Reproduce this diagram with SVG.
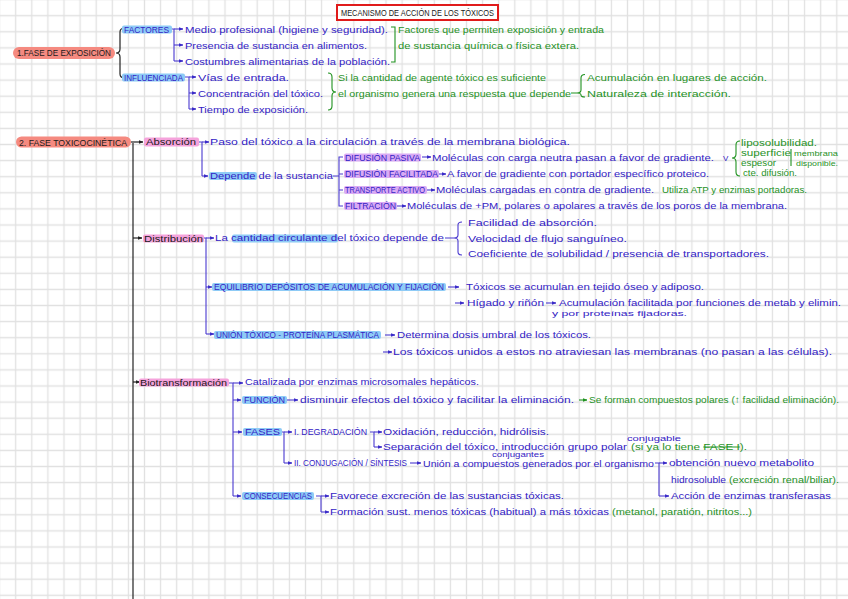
<svg xmlns="http://www.w3.org/2000/svg" width="848" height="599" viewBox="0 0 848 599">
<defs>
<pattern id="grid" patternUnits="userSpaceOnUse" x="7.65" y="7.65" width="16.1" height="16.1">
<path d="M8.05 0V16.1M0 8.05H16.1" stroke="#e1e1e1" stroke-width="1.3" fill="none"/>
</pattern>
<marker id="mb" viewBox="0 0 6 6" refX="5.5" refY="3" markerWidth="4.5" markerHeight="4.5" markerUnits="userSpaceOnUse" orient="auto"><path d="M0,0.5L6,3L0,5.5Z" fill="#3a2bc8"/></marker>
<marker id="mk" viewBox="0 0 6 6" refX="5.5" refY="3" markerWidth="4.5" markerHeight="4.5" markerUnits="userSpaceOnUse" orient="auto"><path d="M0,0.5L6,3L0,5.5Z" fill="#222"/></marker>
<marker id="mg" viewBox="0 0 6 6" refX="5.5" refY="3" markerWidth="4.5" markerHeight="4.5" markerUnits="userSpaceOnUse" orient="auto"><path d="M0,0.5L6,3L0,5.5Z" fill="#1f921f"/></marker>
<style>
text{font-family:"Liberation Sans","DejaVu Sans",sans-serif;font-size:9.5px}
.b{fill:#3322c4}
.g{fill:#1f921f}
.k{fill:#1a1a1a}
.c{font-size:8.5px}
.s{font-size:8px}
.t{font-size:7px}
.lb{fill:none;stroke:#4a3ad0;stroke-width:1.1}
.lk{fill:none;stroke:#222;stroke-width:1.2}
.lg{fill:none;stroke:#1f921f;stroke-width:1.1}
.hb{fill:#8ecbf6}
.hp{fill:#f5a3dc}
.hv{fill:#d9aaf4}
.hs{fill:#f58a80}
.st{text-decoration:line-through}
</style>
</defs>
<rect width="848" height="599" fill="#fff"/>
<rect width="848" height="599" fill="url(#grid)"/>

<g id="title">
<rect x="337" y="5" width="161" height="15" fill="#fff" stroke="#e01b1b" stroke-width="2"/>
<text x="341" y="16.2" class="k" style="font-size:9px" textLength="153" lengthAdjust="spacingAndGlyphs">MECANISMO DE ACCIÓN DE LOS TÓXICOS</text>
</g>

<g id="connectors">
<path class="lk" d="M125,28 Q120,28 120,32 V49 Q120,53 116,53 Q120,53 120,57 V74 Q120,78 125,78"/>
<path class="lb" d="M172,29 H174 V61"/>
<path class="lb" d="M174,29 H183" marker-end="url(#mb)"/>
<path class="lb" d="M174,45 H183" marker-end="url(#mb)"/>
<path class="lb" d="M174,61 H183" marker-end="url(#mb)"/>
<path class="lb" d="M185,77 H189 V109"/>
<path class="lb" d="M189,77 H196" marker-end="url(#mb)"/>
<path class="lb" d="M189,93 H196" marker-end="url(#mb)"/>
<path class="lb" d="M189,109 H196" marker-end="url(#mb)"/>
<path class="lg" d="M391,27 H395 V62 H391"/>
<path class="lg" d="M328,73 Q332,73 332,77 V88 Q332,92 336,92 Q332,92 332,96 V106 Q332,110 328,110"/>
<path class="lg" d="M571,93 H577 M585,74.5 Q581,74.5 581,78 V90 Q581,93 577,93 Q581,93 581,95 Q581,97 585,97"/>
<path class="lk" d="M131,142 H143" marker-end="url(#mk)"/>
<path class="lk" d="M133,143 V599" stroke-width="1.6"/>
<path class="lb" d="M199,142 H202 V176"/>
<path class="lb" d="M202,142 H209" marker-end="url(#mb)"/>
<path class="lb" d="M202,176 H208" marker-end="url(#mb)"/>
<path class="lb" d="M333,176 H339 M343,157 H339 V206 H343 M339,174 H343 M339,190 H343"/>
<path class="lb" d="M422,157 H431" marker-end="url(#mb)"/>
<path class="lb" d="M439,174 H446" marker-end="url(#mb)"/>
<path class="lb" d="M427,190 H435" marker-end="url(#mb)"/>
<path class="lb" d="M397,206 H406" marker-end="url(#mb)"/>
<path class="lg" d="M740,141 Q736,141 736,145 V154 Q736,158 732,158 Q736,158 736,162 V172 Q736,176 740,176"/>
<path class="lg" d="M791,149 V166"/>
<path class="lk" d="M133,238 H142" marker-end="url(#mk)"/>
<path class="lb" d="M204,238 H206 V334"/>
<path class="lb" d="M206,238 H214" marker-end="url(#mb)"/>
<path class="lb" d="M206,287 H212" marker-end="url(#mb)"/>
<path class="lb" d="M206,334 H214" marker-end="url(#mb)"/>
<path class="lb" d="M445,238 H454 M462,222 Q458,222 458,225 V235 Q458,238 454,238 Q458,238 458,241 V252 Q458,255 462,255"/>
<path class="lb" d="M448,287 H459" marker-end="url(#mb)"/>
<path class="lb" d="M455,303 H464" marker-end="url(#mb)"/>
<path class="lb" d="M546,303 H556" marker-end="url(#mb)"/>
<path class="lb" d="M385,335 H395" marker-end="url(#mb)"/>
<path class="lb" d="M383,352 H392" marker-end="url(#mb)"/>
<path class="lk" d="M133,382 H140" marker-end="url(#mk)"/>
<path class="lb" d="M229,383 H233 V496"/>
<path class="lb" d="M233,383 H243" marker-end="url(#mb)"/>
<path class="lb" d="M233,400 H241" marker-end="url(#mb)"/>
<path class="lb" d="M233,432 H242" marker-end="url(#mb)"/>
<path class="lb" d="M233,496 H241" marker-end="url(#mb)"/>
<path class="lb" d="M287,400 H298" marker-end="url(#mb)"/>
<path class="lg" d="M579,400 H587" marker-end="url(#mg)"/>
<path class="lb" d="M282,432 H284 V463"/>
<path class="lb" d="M284,432 H292" marker-end="url(#mb)"/>
<path class="lb" d="M284,463 H292" marker-end="url(#mb)"/>
<path class="lb" d="M370,432 H374 V447"/>
<path class="lb" d="M374,432 H382" marker-end="url(#mb)"/>
<path class="lb" d="M374,447 H382" marker-end="url(#mb)"/>
<path class="lb" d="M410,463 H421" marker-end="url(#mb)"/>
<path class="lb" d="M655,463 H659 V496"/>
<path class="lb" d="M659,463 H667" marker-end="url(#mb)"/>
<path class="lb" d="M659,496 H669" marker-end="url(#mb)"/>
<path class="lb" d="M316,496 H321 V512"/>
<path class="lb" d="M321,496 H329" marker-end="url(#mb)"/>
<path class="lb" d="M321,512 H329" marker-end="url(#mb)"/>
</g>

<g id="fase-exposicion">
<rect x="13" y="47" width="102" height="12" rx="6" class="hs"/>
<text x="17" y="56.3" class="k" style="font-size:9px" textLength="94" lengthAdjust="spacingAndGlyphs">1.FASE DE EXPOSICIÓN</text>
</g>
<g id="factores">
<rect x="122" y="25.5" width="50" height="8" rx="2" class="hb"/>
<text x="124" y="32.6" class="b c" textLength="45" lengthAdjust="spacingAndGlyphs">FACTORES</text>
<text x="185" y="32.5" class="b" textLength="203" lengthAdjust="spacingAndGlyphs">Medio profesional (higiene y seguridad).</text>
<text x="185" y="48.5" class="b" textLength="182" lengthAdjust="spacingAndGlyphs">Presencia de sustancia en alimentos.</text>
<text x="185" y="64.5" class="b" textLength="205" lengthAdjust="spacingAndGlyphs">Costumbres alimentarias de la población.</text>
<text x="398" y="32.5" class="g" textLength="206" lengthAdjust="spacingAndGlyphs">Factores que permiten exposición y entrada</text>
<text x="398" y="48.5" class="g" textLength="181" lengthAdjust="spacingAndGlyphs">de sustancia química o física extera.</text>
</g>
<g id="influenciada">
<rect x="122" y="73.5" width="63" height="8" rx="2" class="hb"/>
<text x="124" y="80.6" class="b c" textLength="59" lengthAdjust="spacingAndGlyphs">INFLUENCIADA</text>
<text x="198" y="80.5" class="b" textLength="91" lengthAdjust="spacingAndGlyphs">Vías de entrada.</text>
<text x="198" y="96.5" class="b" textLength="125" lengthAdjust="spacingAndGlyphs">Concentración del tóxico.</text>
<text x="198" y="112.5" class="b" textLength="110" lengthAdjust="spacingAndGlyphs">Tiempo de exposición.</text>
<text x="338" y="80.5" class="g" textLength="208" lengthAdjust="spacingAndGlyphs">Si la cantidad de agente tóxico es suficiente</text>
<text x="338" y="96.5" class="g" textLength="233" lengthAdjust="spacingAndGlyphs">el organismo genera una respuesta que depende</text>
<text x="587" y="80.5" class="g" textLength="180" lengthAdjust="spacingAndGlyphs">Acumulación en lugares de acción.</text>
<text x="587" y="96.5" class="g" textLength="144" lengthAdjust="spacingAndGlyphs">Naturaleza de interacción.</text>
</g>

<g id="fase-toxicocinetica">
<rect x="16" y="136.5" width="115" height="11" rx="5.5" class="hs"/>
<text x="19" y="145.5" class="k" style="font-size:9px" textLength="108" lengthAdjust="spacingAndGlyphs">2. FASE TOXICOCINÉTICA</text>
</g>
<g id="absorcion">
<rect x="144" y="137.5" width="55" height="9" rx="2" class="hp"/>
<text x="146" y="145" class="k" textLength="50" lengthAdjust="spacingAndGlyphs">Absorción</text>
<text x="210" y="145" class="b" textLength="360" lengthAdjust="spacingAndGlyphs">Paso del tóxico a la circulación a través de la membrana biológica.</text>
<rect x="209" y="172" width="48" height="8" rx="2" class="hb"/>
<text x="210" y="179" class="b" textLength="123" lengthAdjust="spacingAndGlyphs">Depende de la sustancia</text>
</g>
<g id="mecanismos-absorcion">
<rect x="344" y="153.5" width="77" height="8" rx="2" class="hv"/>
<text x="345" y="160.5" class="b c" textLength="75" lengthAdjust="spacingAndGlyphs">DIFUSIÓN PASIVA</text>
<text x="432" y="160.5" class="b" textLength="282" lengthAdjust="spacingAndGlyphs">Moléculas con carga neutra pasan a favor de gradiente.</text>
<text x="723" y="160.5" class="b s">V</text>
<rect x="344" y="170" width="95" height="8" rx="2" class="hv"/>
<text x="345" y="177" class="b c" textLength="93" lengthAdjust="spacingAndGlyphs">DIFUSIÓN FACILITADA</text>
<text x="447" y="177" class="b" textLength="262" lengthAdjust="spacingAndGlyphs">A favor de gradiente con portador específico proteico.</text>
<rect x="344" y="186" width="83" height="8" rx="2" class="hv"/>
<text x="345" y="193" class="b c" textLength="80" lengthAdjust="spacingAndGlyphs">TRANSPORTE ACTIVO</text>
<text x="436" y="193" class="b" textLength="218" lengthAdjust="spacingAndGlyphs">Moléculas cargadas en contra de gradiente.</text>
<text x="662" y="193" class="g" textLength="145" lengthAdjust="spacingAndGlyphs">Utiliza ATP y enzimas portadoras.</text>
<rect x="344" y="202" width="53" height="8" rx="2" class="hv"/>
<text x="345" y="209" class="b c" textLength="51" lengthAdjust="spacingAndGlyphs">FILTRACIÓN</text>
<text x="407" y="209" class="b" textLength="380" lengthAdjust="spacingAndGlyphs">Moléculas de +PM, polares o apolares a través de los poros de la membrana.</text>
<text x="741" y="145.7" class="g" textLength="76" lengthAdjust="spacingAndGlyphs">liposolubilidad.</text>
<text x="741" y="155.7" class="g" textLength="50" lengthAdjust="spacingAndGlyphs">superficie</text>
<text x="741" y="165.7" class="g" textLength="35" lengthAdjust="spacingAndGlyphs">espesor</text>
<text x="743" y="176.3" class="g" textLength="54" lengthAdjust="spacingAndGlyphs">cte. difusión.</text>
<text x="794" y="155.7" class="g s" textLength="44" lengthAdjust="spacingAndGlyphs">membrana</text>
<text x="796" y="165.7" class="g s" textLength="42" lengthAdjust="spacingAndGlyphs">disponible.</text>
</g>

<g id="distribucion">
<rect x="143" y="234.5" width="61" height="8" rx="2" class="hp"/>
<text x="144" y="241.5" class="k" textLength="59" lengthAdjust="spacingAndGlyphs">Distribución</text>
<rect x="232" y="234.5" width="106" height="8" rx="2" class="hb"/>
<text x="215" y="241" class="b" textLength="229" lengthAdjust="spacingAndGlyphs">La cantidad circulante del tóxico depende de</text>
<text x="468" y="226" class="b" textLength="129" lengthAdjust="spacingAndGlyphs">Facilidad de absorción.</text>
<text x="468" y="242" class="b" textLength="159" lengthAdjust="spacingAndGlyphs">Velocidad de flujo sanguíneo.</text>
<text x="468" y="257" class="b" textLength="301" lengthAdjust="spacingAndGlyphs">Coeficiente de solubilidad / presencia de transportadores.</text>
</g>
<g id="equilibrio">
<rect x="212" y="283" width="234" height="8" rx="2" class="hb"/>
<text x="214" y="290" class="b c" textLength="230" lengthAdjust="spacingAndGlyphs">EQUILIBRIO DEPÓSITOS DE ACUMULACIÓN Y FIJACIÓN</text>
<text x="466" y="290" class="b" textLength="238" lengthAdjust="spacingAndGlyphs">Tóxicos se acumulan en tejido óseo y adiposo.</text>
<text x="467" y="306" class="b" textLength="77" lengthAdjust="spacingAndGlyphs">Hígado y riñón</text>
<text x="559" y="306" class="b" textLength="282" lengthAdjust="spacingAndGlyphs">Acumulación facilitada por funciones de metab y elimin.</text>
<text x="552" y="316" class="b s" textLength="135" lengthAdjust="spacingAndGlyphs">y por proteínas fijadoras.</text>
</g>
<g id="union">
<rect x="214" y="331" width="167" height="8" rx="2" class="hb"/>
<text x="216" y="338" class="b c" textLength="163" lengthAdjust="spacingAndGlyphs">UNIÓN TÓXICO - PROTEÍNA PLASMÁTICA</text>
<text x="397" y="338" class="b" textLength="194" lengthAdjust="spacingAndGlyphs">Determina dosis umbral de los tóxicos.</text>
<text x="393" y="355" class="b" textLength="439" lengthAdjust="spacingAndGlyphs">Los tóxicos unidos a estos no atraviesan las membranas (no pasan a las células).</text>
</g>

<g id="biotransformacion">
<rect x="139" y="378.5" width="90" height="8" rx="2" class="hp"/>
<text x="140" y="385.5" class="k" textLength="87" lengthAdjust="spacingAndGlyphs">Biotransformación</text>
<text x="245" y="385" class="b" textLength="234" lengthAdjust="spacingAndGlyphs">Catalizada por enzimas microsomales hepáticos.</text>
</g>
<g id="funcion">
<rect x="242" y="396" width="45" height="8" rx="2" class="hb"/>
<text x="244" y="403" class="b c" textLength="41" lengthAdjust="spacingAndGlyphs">FUNCIÓN</text>
<text x="300" y="403" class="b" textLength="274" lengthAdjust="spacingAndGlyphs">disminuir efectos del tóxico y facilitar la eliminación.</text>
<text x="589" y="403" class="g" textLength="250" lengthAdjust="spacingAndGlyphs">Se forman compuestos polares (↑ facilidad eliminación).</text>
</g>
<g id="fases">
<rect x="243" y="428" width="39" height="8" rx="2" class="hb"/>
<text x="245" y="435" class="b c" textLength="35" lengthAdjust="spacingAndGlyphs">FASES</text>
<text x="294" y="435" class="b c" textLength="73" lengthAdjust="spacingAndGlyphs">I. DEGRADACIÓN</text>
<text x="383" y="435" class="b" textLength="166" lengthAdjust="spacingAndGlyphs">Oxidación, reducción, hidrólisis.</text>
<text x="383" y="450" class="b" textLength="244" lengthAdjust="spacingAndGlyphs">Separación del tóxico, introducción grupo polar</text>
<text x="631" y="450" class="g" textLength="116" lengthAdjust="spacingAndGlyphs">(si ya lo tiene <tspan class="st">FASE I</tspan>).</text>
<text x="627" y="441" class="b t" textLength="54" lengthAdjust="spacingAndGlyphs">conjugable</text>
<text x="294" y="466" class="b c" textLength="113" lengthAdjust="spacingAndGlyphs">II. CONJUGACIÓN / SÍNTESIS</text>
<text x="423" y="466.5" class="b" textLength="231" lengthAdjust="spacingAndGlyphs">Unión a compuestos generados por el organismo</text>
<text x="492" y="456.5" class="b t" textLength="52" lengthAdjust="spacingAndGlyphs">conjugantes</text>
<text x="669" y="466" class="b" textLength="145" lengthAdjust="spacingAndGlyphs">obtención nuevo metabolito</text>
<text x="671" y="483" class="b" textLength="55" lengthAdjust="spacingAndGlyphs">hidrosoluble</text>
<text x="729" y="483" class="g" textLength="110" lengthAdjust="spacingAndGlyphs">(excreción renal/biliar).</text>
<text x="671" y="499" class="b" textLength="160" lengthAdjust="spacingAndGlyphs">Acción de enzimas transferasas</text>
</g>
<g id="consecuencias">
<rect x="242" y="492" width="72" height="8" rx="2" class="hb"/>
<text x="244" y="499" class="b c" textLength="68" lengthAdjust="spacingAndGlyphs">CONSECUENCIAS</text>
<text x="330" y="499" class="b" textLength="234" lengthAdjust="spacingAndGlyphs">Favorece excreción de las sustancias tóxicas.</text>
<text x="330" y="515" class="b" textLength="279" lengthAdjust="spacingAndGlyphs">Formación sust. menos tóxicas (habitual) a más tóxicas</text>
<text x="612" y="515" class="g" textLength="140" lengthAdjust="spacingAndGlyphs">(metanol, paratión, nitritos...)</text>
</g>
</svg>
